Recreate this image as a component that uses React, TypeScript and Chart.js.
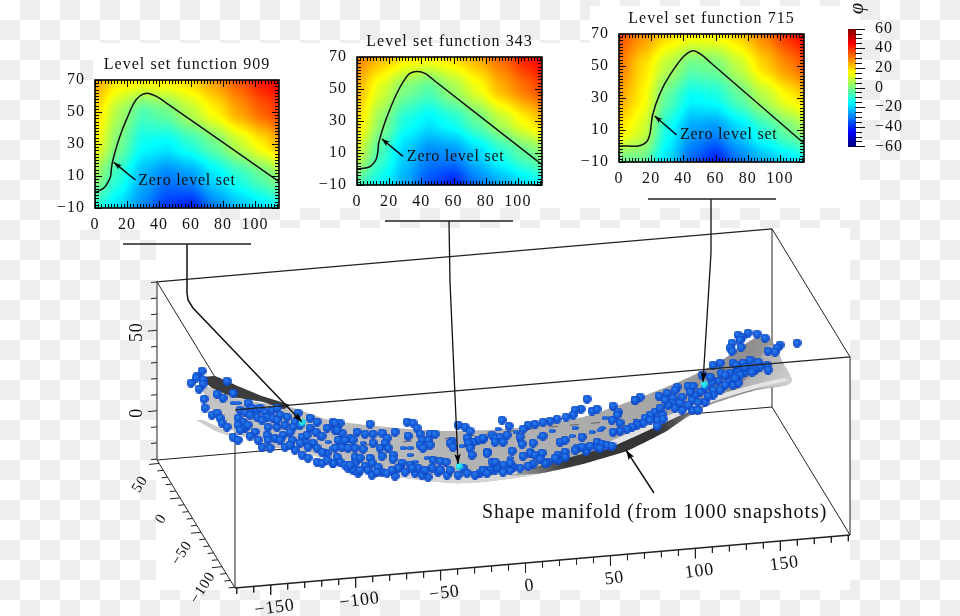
import React, { useEffect, useRef } from "react";
import { Chart, registerables } from "chart.js";

Chart.register(...registerables);

const SERIF = '"Liberation Serif", "DejaVu Serif", serif';
type P = [number, number];

// ---- level set insets ----
const fieldX = [0, 15, 30, 45, 60, 75, 90, 105, 115];
const fieldY = [70, 50, 30, 10, -10];
const phi909 = [
  [25, 18, 16, 17, 20, 27, 35, 43, 46],
  [20, 5, -6, -2, 7, 16, 26, 34, 38],
  [15, -1, -14, -16, -10, -2, 8, 17, 24],
  [3, -10, -24, -30, -27, -18, -10, -3, 2],
  [-10, -19, -29, -39, -42, -30, -23, -18, -13],
];
const phi343 = [
  [30, 23, 18, 16, 19, 25, 33, 42, 46],
  [24, 11, 0, -5, 4, 13, 24, 32, 37],
  [19, 2, -12, -17, -12, -3, 7, 16, 22],
  [10, -7, -21, -29, -28, -20, -11, -3, 1],
  [-6, -15, -25, -36, -42, -31, -25, -19, -14],
];
const phi715 = [
  [36, 28, 20, 16, 16, 21, 30, 40, 46],
  [31, 19, 7, -3, -1, 8, 20, 29, 34],
  [26, 16, -4, -15, -13, -4, 6, 15, 20],
  [18, 10, -13, -26, -28, -20, -10, -2, 3],
  [-3, -3, -19, -33, -42, -31, -24, -19, -15],
];
const curve909: P[] = [[0, -0.4], [3, 1], [6, 3], [8, 6], [9.7, 9.6], [10.3, 15], [11.2, 20], [14, 30], [17, 38.7], [20, 46], [24.2, 55.4], [28, 60], [32.5, 61.7], [38.7, 59.6], [44, 56], [115, 6.5]];
const curve343: P[] = [[0, 0.2], [4, 0.4], [8.3, 1.7], [11.8, 5.8], [13, 11], [13.5, 16.3], [17.6, 29.8], [24.9, 47.5], [32, 59], [37.3, 61], [42.5, 59.6], [48, 55.3], [115, 2.7]];
const curve715: P[] = [[0, 0], [6, 0], [12, 0], [17.2, 2.7], [19.3, 7.9], [20.9, 19.4], [25.5, 32.9], [31.7, 44.4], [40, 55.8], [46.2, 59.6], [51.4, 56.9], [57, 52], [114.6, 2]];
const arrow909: P[] = [[25.3, 7.5], [11.8, 18.5]];
const arrow343: P[] = [[28.6, 7.9], [15.5, 18.8]];
const arrow715: P[] = [[35.8, 6.9], [22.2, 18.8]];
const zeroLabel = "Zero level set";
const zeroAt909: P = [27, 6.9];
const zeroAt343: P = [31, 7.5];
const zeroAt715: P = [37.9, 6.9];

// ---- colour bar ----
const barTicksMajorStep = 20;
const barRange: P = [-60, 60];

// ---- 3D box, axis values ----
const xExtent: P = [-171, 191];
const yExtent: P = [-131, 55];
const zExtent: P = [-30.6, 80];
const xTickLabels = [-150, -100, -50, 0, 50, 100, 150];
const yTickLabels = [50, 0, -50, -100];
const zTickLabels = [50, 0];

// ---- manifold in the view plane ----
const manifoldBody: P[] = [[203, 385], [233, 397], [263, 403], [287, 406], [330, 420], [397, 428], [450, 431], [517, 428], [583, 417], [633, 400], [683, 380], [717, 363], [737, 350], [757, 337], [770, 338], [783, 363], [792, 380], [787, 385], [757, 390], [733, 397], [703, 408], [667, 430], [627, 450], [583, 463], [533, 475], [483, 482], [450, 483], [397, 477], [347, 467], [297, 450], [270, 447], [237, 433], [215, 415], [205, 400], [203, 385]];
const manifoldTipLight: P[] = [[733, 394], [752, 372], [770, 345], [783, 363], [792, 380], [787, 385], [757, 389], [733, 394]];
const manifoldRim: P[] = [[300, 450], [347, 461], [397, 470], [450, 476], [483, 476], [533, 469], [583, 458], [583, 463], [533, 475], [483, 482], [450, 483], [397, 477], [347, 467], [300, 450]];
const foldTop: P[] = [[203, 377], [215, 376], [240, 387], [262, 396], [290, 405], [284, 409], [263, 402], [233, 397], [212, 388], [205, 382], [203, 377]];
const foldUnder: P[] = [[510, 476], [545, 464], [590, 452], [627, 440], [667, 422], [695, 408], [695, 410], [667, 431], [627, 451], [583, 464], [543, 473], [510, 476]];
const highlight: P[] = [[600, 446], [667, 416], [710, 397], [757, 384], [785, 378], [787, 381], [757, 388], [712, 402], [670, 420], [605, 450], [600, 446]];
const streak: P[] = [[196, 420], [203, 420], [225, 430], [240, 440], [235, 438], [215, 431], [196, 420]];
const surfaceDash: P[] = [[340, 447], [450, 438], [540, 428], [637, 419]];

const snapshotsLeft: P[] = [[202, 371], [197, 376], [196, 378], [203, 380], [191, 383], [203, 384], [199, 389], [227, 381], [233, 393], [204, 399], [205, 408], [217, 394], [223, 398], [212, 415], [217, 413], [220, 418], [222, 423], [227, 427], [240, 410], [248, 403], [252, 408], [257, 410], [260, 408], [265, 412], [272, 410], [277, 408], [280, 415], [287, 417], [295, 422], [310, 418], [317, 422], [238, 418], [243, 422], [238, 425], [245, 428], [255, 432], [248, 425], [257, 417], [267, 417], [273, 418], [268, 427], [277, 427], [283, 435], [292, 440], [302, 437], [305, 442], [307, 435], [313, 443], [317, 448], [267, 435], [268, 440], [275, 438], [233, 437], [238, 440], [262, 447], [270, 448], [285, 447], [295, 450], [302, 455], [308, 458], [317, 462], [322, 463], [327, 453], [333, 463], [327, 428], [335, 423], [337, 430], [327, 460], [300, 443], [293, 427], [298, 413], [245, 412], [250, 415], [262, 420], [277, 420], [285, 425], [290, 432], [300, 425], [310, 428], [316, 432], [322, 436], [240, 430], [250, 436], [258, 440], [280, 440], [290, 445], [308, 447], [322, 452]];
const snapshotsMiddle: P[] = [[333, 422], [340, 423], [370, 424], [407, 422], [413, 423], [417, 428], [458, 425], [465, 427], [470, 431], [335, 430], [342, 433], [357, 432], [365, 434], [373, 434], [382, 433], [395, 432], [420, 434], [430, 434], [435, 434], [350, 438], [353, 440], [387, 438], [408, 436], [467, 438], [452, 441], [450, 443], [422, 440], [428, 440], [420, 445], [430, 445], [423, 448], [373, 443], [385, 443], [388, 448], [380, 448], [478, 440], [483, 438], [473, 442], [468, 443], [470, 448], [453, 447], [335, 448], [342, 447], [348, 448], [355, 448], [363, 449], [382, 456], [472, 455], [393, 455], [393, 459], [433, 460], [440, 461], [446, 462], [337, 457], [333, 463], [340, 462], [345, 465], [348, 468], [355, 457], [355, 463], [353, 470], [358, 473], [365, 466], [370, 458], [372, 463], [378, 467], [382, 472], [387, 473], [395, 476], [402, 463], [400, 467], [410, 465], [398, 468], [405, 472], [415, 473], [418, 468], [423, 472], [428, 477], [422, 475], [438, 472], [447, 475], [450, 470], [458, 475], [463, 468], [467, 473], [475, 475], [483, 470], [487, 473], [487, 453], [338, 440], [345, 440], [360, 458], [368, 470], [372, 475], [440, 470], [432, 468], [425, 470], [412, 468], [392, 470], [377, 472], [360, 470], [350, 465]];
const snapshotsCentre: P[] = [[587, 399], [502, 420], [509, 426], [613, 406], [581, 409], [575, 410], [573, 415], [566, 417], [592, 411], [597, 409], [618, 412], [617, 415], [557, 419], [550, 421], [543, 422], [535, 424], [528, 425], [523, 429], [612, 420], [620, 423], [635, 400], [637, 425], [632, 427], [627, 429], [620, 431], [613, 432], [492, 435], [495, 438], [500, 437], [507, 435], [483, 439], [495, 442], [503, 442], [520, 437], [522, 444], [533, 443], [543, 436], [560, 442], [565, 440], [582, 437], [597, 442], [602, 444], [607, 445], [612, 446], [597, 447], [586, 448], [586, 451], [487, 452], [512, 451], [530, 453], [535, 455], [542, 453], [523, 456], [565, 452], [558, 455], [565, 457], [558, 460], [548, 462], [545, 463], [533, 464], [528, 466], [520, 468], [513, 467], [510, 470], [503, 465], [503, 472], [495, 470], [490, 470], [492, 462], [483, 470], [480, 473], [577, 448], [582, 447], [497, 467], [510, 463], [540, 459], [555, 458], [495, 462], [575, 450], [600, 448], [590, 446]];
const snapshotsRight: P[] = [[748, 333], [738, 335], [742, 337], [740, 340], [757, 334], [765, 338], [732, 343], [730, 348], [732, 351], [741, 347], [780, 345], [777, 348], [797, 343], [768, 351], [775, 352], [720, 363], [713, 365], [733, 363], [743, 363], [750, 360], [758, 362], [767, 365], [768, 370], [760, 367], [750, 367], [745, 372], [755, 370], [737, 370], [730, 373], [740, 375], [728, 382], [733, 385], [738, 383], [725, 385], [718, 381], [712, 382], [702, 375], [721, 373], [710, 377], [688, 386], [693, 386], [677, 387], [675, 390], [667, 393], [659, 396], [640, 397], [635, 400], [713, 390], [713, 395], [705, 388], [700, 392], [695, 395], [692, 400], [705, 402], [682, 397], [673, 398], [672, 403], [675, 408], [682, 410], [692, 410], [698, 410], [655, 412], [650, 415], [662, 414], [645, 418], [657, 420], [663, 419], [637, 423], [643, 423], [657, 426], [725, 375], [735, 378], [720, 390], [708, 396], [698, 402], [688, 405], [680, 403], [668, 405], [660, 408], [650, 420], [665, 400], [745, 367], [752, 372], [736, 365], [690, 392]];
const snapshotsClipped: P[] = [[233, 403], [238, 403], [222, 397], [310, 430], [320, 438], [328, 442], [332, 448], [363, 443], [403, 448], [410, 448], [410, 455], [427, 458], [415, 462], [575, 428], [602, 428], [605, 418], [552, 431], [540, 437], [520, 441], [530, 450], [592, 432], [600, 430], [440, 468], [462, 446], [498, 429], [516, 432], [572, 436], [510, 458]];
const highlighted: P[] = [[302, 422], [459, 466], [704, 384]];

const bracket909: P[] = [[123, 244], [251, 244]];
const bracket343: P[] = [[385, 221], [513, 221]];
const bracket715: P[] = [[648, 199], [776, 199]];
const leader909: P[] = [[187, 244], [187, 293], [188, 300], [193, 308], [302, 422]];
const leader343: P[] = [[449, 221], [450, 282], [458, 464]];
const leader715: P[] = [[711, 199], [711, 253], [703, 382]];
const leaderManifold: P[] = [[654, 493], [626, 450]];
const manifoldLabel = "Shape manifold (from 1000 snapshots)";
const manifoldLabelAt: P = [482, 513];

function project(X: number, Y: number, Z: number): P {
  const sx = 235 + (X - xExtent[0]) * 1.699 - (Y - yExtent[0]) * 0.4194;
  const sy = 588 - (X - xExtent[0]) * 0.1464 - (Y - yExtent[0]) * 0.6882 - (Z - zExtent[0]) * 1.61;
  return [sx, sy];
}

function jet(v: number): [number, number, number] {
  const t = Math.max(0, Math.min(1, (v + 60) / 120));
  const ch = (c: number) => Math.round(255 * Math.max(0, Math.min(1, 1.5 - Math.abs(4 * t - c))));
  return [ch(3), ch(2), ch(1)];
}

function sampleField(grid: number[][], x: number, y: number) {
  let i = 0;
  while (i < fieldX.length - 2 && x > fieldX[i + 1]) i++;
  let j = 0;
  while (j < fieldY.length - 2 && y < fieldY[j + 1]) j++;
  const a = Math.max(0, Math.min(1, (x - fieldX[i]) / (fieldX[i + 1] - fieldX[i])));
  const b = Math.max(0, Math.min(1, (y - fieldY[j]) / (fieldY[j + 1] - fieldY[j])));
  const s = (q: number) => q * q * (3 - 2 * q);
  const aa = a * 0.5 + s(a) * 0.5;
  const bb = b * 0.5 + s(b) * 0.5;
  return (grid[j][i] * (1 - aa) + grid[j][i + 1] * aa) * (1 - bb) + (grid[j + 1][i] * (1 - aa) + grid[j + 1][i + 1] * aa) * bb;
}

function arrowHead(ctx: CanvasRenderingContext2D, fx: number, fy: number, tx: number, ty: number, len = 9, half = 3) {
  const a = Math.atan2(ty - fy, tx - fx);
  ctx.save();
  ctx.translate(tx, ty);
  ctx.rotate(a);
  ctx.fillStyle = "#000";
  ctx.beginPath();
  ctx.moveTo(0, 0);
  ctx.lineTo(-len, -half);
  ctx.lineTo(-len + 2, 0);
  ctx.lineTo(-len, half);
  ctx.closePath();
  ctx.fill();
  ctx.restore();
}

const lineSet = (data: P[], color: string, width: number, order: number, extra: any = {}) => ({
  type: "line",
  data: data.map(([x, y]) => ({ x, y })),
  borderColor: color,
  borderWidth: width,
  pointRadius: 0,
  tension: 0,
  fill: false,
  order,
  ...extra,
});

function ball(color1: string, color2: string, w: number, h: number) {
  const c = document.createElement("canvas");
  c.width = w;
  c.height = h;
  const g = c.getContext("2d")!;
  const grad = g.createRadialGradient(w * 0.42, h * 0.38, 0.3, w / 2, h / 2, Math.max(w, h) / 2);
  grad.addColorStop(0, color1);
  grad.addColorStop(1, color2);
  g.fillStyle = grad;
  g.beginPath();
  g.ellipse(w / 2, h / 2, w / 2, h / 2, 0, 0, Math.PI * 2);
  g.fill();
  return c;
}

function makeInset(canvas: HTMLCanvasElement, title: string, grid: number[][], curve: P[], arrow: P[], labelAt: P) {
  const ctxPlugin = {
    id: "inset",
    beforeDraw(chart: any) {
      chart.ctx.letterSpacing = "1.05px";
    },
    beforeDatasetsDraw(chart: any) {
      const { ctx, chartArea: a, scales } = chart;
      const L = Math.round(a.left), T = Math.round(a.top);
      const w = Math.round(a.right) - L, h = Math.round(a.bottom) - T;
      const img = ctx.createImageData(w, h);
      for (let py = 0; py < h; py++) {
        const vy = scales.y.getValueForPixel(T + py + 0.5);
        for (let px = 0; px < w; px++) {
          const vx = scales.x.getValueForPixel(L + px + 0.5);
          const [r, g, b] = jet(sampleField(grid, vx, vy));
          const k = (py * w + px) * 4;
          img.data[k] = r; img.data[k + 1] = g; img.data[k + 2] = b; img.data[k + 3] = 255;
        }
      }
      ctx.putImageData(img, L, T);
    },
    afterDatasetsDraw(chart: any) {
      const { ctx, chartArea: a, scales } = chart;
      const sx = scales.x, sy = scales.y;
      ctx.save();
      ctx.strokeStyle = "#000";
      ctx.lineWidth = 1;
      ctx.beginPath();
      for (let v = 0; v <= 115; v += 2) {
        const p = Math.round(sx.getPixelForValue(v)) + 0.5;
        const l = v % 20 === 0 ? 7 : 4;
        ctx.moveTo(p, a.bottom); ctx.lineTo(p, a.bottom - l);
        ctx.moveTo(p, a.top); ctx.lineTo(p, a.top + l);
      }
      for (let v = -10; v <= 70; v += 2) {
        const p = Math.round(sy.getPixelForValue(v)) + 0.5;
        const l = (v + 10) % 20 === 0 ? 7 : 4;
        ctx.moveTo(a.left, p); ctx.lineTo(a.left + l, p);
        ctx.moveTo(a.right, p); ctx.lineTo(a.right - l, p);
      }
      ctx.stroke();
      ctx.strokeStyle = "#000";
      ctx.lineWidth = 1.6;
      ctx.strokeRect(a.left, a.top, a.right - a.left, a.bottom - a.top);
      const fx = sx.getPixelForValue(arrow[0][0]), fy = sy.getPixelForValue(arrow[0][1]);
      const tx = sx.getPixelForValue(arrow[1][0]), ty = sy.getPixelForValue(arrow[1][1]);
      arrowHead(ctx, fx, fy, tx, ty, 8, 2.8);
      ctx.fillStyle = "#111";
      ctx.font = `16px ${SERIF}`;
      ctx.letterSpacing = "0.75px";
      ctx.textAlign = "left";
      ctx.textBaseline = "middle";
      ctx.fillText(zeroLabel, sx.getPixelForValue(labelAt[0]), sy.getPixelForValue(labelAt[1]));
      ctx.restore();
    },
  };
  return new Chart(canvas, {
    type: "line",
    data: {
      datasets: [
        lineSet(curve, "#111", 1.5, 2, { tension: 0.3 }),
        lineSet(arrow, "#000", 1.4, 1),
      ] as any,
    },
    options: {
      animation: false,
      responsive: false,
      layout: { autoPadding: false, padding: { right: 10 } },
      plugins: {
        legend: { display: false },
        tooltip: { enabled: false },
        title: {
          display: true,
          fullSize: false,
          text: title,
          color: "#111",
          font: { family: SERIF, size: 16, weight: "normal", lineHeight: 1.25 },
          padding: { top: 5, bottom: 5 },
        },
      },
      scales: {
        x: {
          type: "linear",
          min: 0,
          max: 115,
          grid: { display: false, drawTicks: false },
          border: { display: false },
          afterFit: (s: any) => { s.height = 35; },
          ticks: { stepSize: 20, includeBounds: false, maxRotation: 0, autoSkip: false, padding: 7, color: "#111", font: { family: SERIF, size: 16 } },
        },
        y: {
          type: "linear",
          min: -10,
          max: 70,
          grid: { display: false, drawTicks: false },
          border: { display: false },
          afterFit: (s: any) => { s.width = 50; },
          ticks: {
            stepSize: 20, autoSkip: false, padding: 10, color: "#111", font: { family: SERIF, size: 16 },
            callback: (v: any) => (v < 0 ? "\u2212" + Math.abs(v) : String(v)),
          },
        },
      },
    } as any,
    plugins: [ctxPlugin as any],
  });
}

function makeBar(canvas: HTMLCanvasElement) {
  const plugin = {
    id: "bar",
    beforeDraw(chart: any) { chart.ctx.letterSpacing = "1.05px"; },
    afterDatasetsDraw(chart: any) {
      const { ctx, chartArea: a, scales } = chart;
      const sy = scales.y;
      ctx.save();
      for (let p = Math.round(a.top); p < a.bottom; p++) {
        const [r, g, b] = jet(sy.getValueForPixel(p + 0.5));
        ctx.fillStyle = `rgb(${r},${g},${b})`;
        ctx.fillRect(a.left, p, a.right - a.left, 1);
      }
      ctx.strokeStyle = "#111";
      ctx.lineWidth = 1;
      ctx.beginPath();
      for (let v = barRange[0]; v <= barRange[1]; v += 5) {
        const p = Math.round(sy.getPixelForValue(v)) + 0.5;
        ctx.moveTo(a.right - 1, p);
        ctx.lineTo(a.right + (v % barTicksMajorStep === 0 ? 9 : 6), p);
      }
      ctx.stroke();
      ctx.translate(a.left + 10, 8);
      ctx.rotate(-Math.PI / 2);
      ctx.fillStyle = "#111";
      ctx.font = `italic 20px ${SERIF}`;
      ctx.textAlign = "center";
      ctx.textBaseline = "middle";
      ctx.fillText("\u03c6", 0, 0);
      ctx.restore();
    },
  };
  return new Chart(canvas, {
    type: "line",
    data: { datasets: [] },
    options: {
      animation: false,
      responsive: false,
      layout: { autoPadding: false, padding: { left: 8, top: 27, bottom: 20 } },
      plugins: { legend: { display: false }, tooltip: { enabled: false } },
      scales: {
        x: { type: "linear", min: 0, max: 1, display: false },
        y: {
          type: "linear",
          position: "right",
          min: barRange[0],
          max: barRange[1],
          grid: { display: false, drawTicks: false },
          border: { display: false },
          afterFit: (s: any) => { s.width = 59; },
          ticks: {
            stepSize: barTicksMajorStep, autoSkip: false, padding: 19, color: "#111", font: { family: SERIF, size: 16 },
            callback: (v: any) => (v < 0 ? "\u2212" + Math.abs(v) : String(v)),
          },
        },
      },
    } as any,
    plugins: [plugin as any],
  });
}

function boxEdge(a: [number, number, number], b: [number, number, number]): P[] {
  return [project(...a), project(...b)];
}

function makeMain(canvas: HTMLCanvasElement) {
  const [x0, x1] = xExtent, [y0, y1] = yExtent, [z0, z1] = zExtent;
  const ctx = canvas.getContext("2d")!;

  const bodyFill = ctx.createLinearGradient(200, 0, 790, 0);
  bodyFill.addColorStop(0, "#c4c4c4");
  bodyFill.addColorStop(0.4, "#b6b6b6");
  bodyFill.addColorStop(0.75, "#a8a8a8");
  bodyFill.addColorStop(0.93, "#8e8e8e");
  bodyFill.addColorStop(1, "#a0a0a0");
  const underFill = ctx.createLinearGradient(510, 0, 695, 0);
  underFill.addColorStop(0, "rgba(70,70,70,0.3)");
  underFill.addColorStop(0.3, "#3a3a3a");
  underFill.addColorStop(0.8, "#333");
  underFill.addColorStop(1, "#777");
  const tipFill = ctx.createLinearGradient(740, 345, 792, 385);
  tipFill.addColorStop(0, "#999");
  tipFill.addColorStop(1, "#d4d4d4");

  const tickSegs = (from: number, to: number, step: number, pos: (v: number) => P, dir: P, majorLen: number, minorLen: number, major: number) => {
    const out: any[] = [];
    const first = Math.ceil(from / step) * step;
    for (let v = first; v <= to; v += step) {
      const [px, py] = pos(v);
      const l = v % major === 0 ? majorLen : minorLen;
      out.push({ x: px, y: py }, { x: px + dir[0] * l, y: py + dir[1] * l }, { x: px, y: null });
    }
    return out;
  };

  const ticksDs = (data: any[]) => ({ type: "line", data, borderColor: "#222", borderWidth: 1, pointRadius: 0, spanGaps: false, fill: false, order: 11 });

  const shape = (data: P[], color: any, order: number, tension = 0.25) =>
    lineSet(data, "rgba(0,0,0,0)", 0, order, { fill: "shape", backgroundColor: color, tension });

  const balls = (data: P[], style: any, order: number) => ({
    type: "line",
    data: data.map(([x, y]) => ({ x, y })),
    showLine: false,
    pointStyle: style,
    pointRadius: 4,
    order,
  });

  const sphere = ball("#2a80f2", "#0a44c4", 9, 9);
  const flat = ball("#2a78e8", "#0d48c0", 7, 4);
  const cyan = ball("#40ffff", "#10c8e0", 7, 7);

  const edge = "#222";
  const datasets: any[] = [
    // back of box
    lineSet(boxEdge([x0, y1, z1], [x1, y1, z1]), edge, 1.3, 12),
    lineSet(boxEdge([x0, y1, z0], [x1, y1, z0]), edge, 1.2, 12),
    lineSet(boxEdge([x0, y1, z0], [x0, y1, z1]), edge, 1, 12),
    lineSet(boxEdge([x1, y1, z0], [x1, y1, z1]), edge, 1, 12),
    lineSet(boxEdge([x0, y1, z1], [x0, y0, z1]), edge, 1, 12),
    lineSet(boxEdge([x1, y1, z1], [x1, y0, z1]), edge, 1, 12),
    lineSet(boxEdge([x0, y1, z0], [x0, y0, z0]), edge, 1, 12),
    lineSet(boxEdge([x1, y1, z0], [x1, y0, z0]), edge, 1, 12),
    lineSet(boxEdge([x0, y0, z0], [x1, y0, z0]), edge, 1.3, 12),
    lineSet(boxEdge([x0, y0, z0], [x0, y0, z1]), edge, 1, 12),
    lineSet(boxEdge([x1, y0, z0], [x1, y0, z1]), edge, 1, 12),
    ticksDs(tickSegs(x0, x1, 10, (v) => project(v, y0, z0), [0, 1], 10, 6, 50)),
    ticksDs(tickSegs(y0, y1, 10, (v) => project(x0, v, z0), [-1, 0.1], 10, 6, 50)),
    ticksDs(tickSegs(z0, z1, 10, (v) => project(x0, y1, v), [-1, 0.1], 9, 6, 50)),
    // manifold
    shape(streak, "#cfcfcf", 10, 0),
    shape(manifoldBody, bodyFill, 9),
    shape(manifoldTipLight, tipFill, 8),
    shape(manifoldRim, "#d6d6d6", 8),
    shape(foldTop, "#3c3c3c", 8, 0.1),
    shape(highlight, "#e4e4e4", 7, 0.1),
    shape(foldUnder, underFill, 7, 0.1),
    lineSet(surfaceDash, "rgba(50,50,50,0.6)", 1, 6, { borderDash: [9, 12] }),
    // snapshots
    balls(snapshotsClipped, flat, 5),
    balls(snapshotsLeft, sphere, 4),
    balls(snapshotsMiddle, sphere, 4),
    balls(snapshotsCentre, sphere, 4),
    balls(snapshotsRight, sphere, 4),
    balls(highlighted, cyan, 3),
    // front lines of box
    lineSet(boxEdge([x0, y0, z1], [x1, y0, z1]), edge, 1.3, 2),
    // leaders
    lineSet(bracket909, "#222", 1.3, 1),
    lineSet(bracket343, "#222", 1.3, 1),
    lineSet(bracket715, "#222", 1.3, 1),
    lineSet(leader909, "#111", 1.5, 1),
    lineSet(leader343, "#111", 1.3, 1),
    lineSet(leader715, "#111", 1.3, 1),
    lineSet(leaderManifold, "#111", 1.4, 1),
  ];

  const plugin = {
    id: "box",
    afterDatasetsDraw(chart: any) {
      const c = chart.ctx as CanvasRenderingContext2D;
      const sx = chart.scales.x, sy = chart.scales.y;
      const px = (p: P): P => [sx.getPixelForValue(p[0]), sy.getPixelForValue(p[1])];
      [leader909, leader343, leader715, leaderManifold].forEach((l) => {
        const a = px(l[l.length - 2]), b = px(l[l.length - 1]);
        arrowHead(c, a[0], a[1], b[0], b[1], 10, 3.2);
      });
      const put = (s: string, p: P, rot: number, font: string, align: CanvasTextAlign = "center") => {
        c.save();
        c.translate(sx.getPixelForValue(p[0]), sy.getPixelForValue(p[1]));
        c.rotate(rot);
        c.font = font;
        c.fillStyle = "#111";
        c.textAlign = align;
        c.textBaseline = "middle";
        c.fillText(s, 0, 0);
        c.restore();
      };
      (c as any).letterSpacing = "0.8px";
      const fmt = (v: number) => (v < 0 ? "\u2212" + Math.abs(v) : String(v));
      xTickLabels.forEach((v) => {
        const [a, b] = project(v, y0, z0);
        put(fmt(v), [a + 4, b + 23], -0.13, `18px ${SERIF}`);
      });
      yTickLabels.forEach((v) => {
        const [a, b] = project(x0, v, z0);
        put(fmt(v), [a - 19, b + 21], -1.0, `15px ${SERIF}`);
      });
      zTickLabels.forEach((v) => {
        const [a, b] = project(x0, y1, v);
        put(fmt(v), [a - 20, b + 2], -Math.PI / 2, `18px ${SERIF}`);
      });
      (c as any).letterSpacing = "0.95px";
      put(manifoldLabel, manifoldLabelAt, 0, `20px ${SERIF}`, "left");
    },
  };

  return new Chart(canvas, {
    type: "line",
    data: { datasets },
    options: {
      animation: false,
      responsive: false,
      layout: { autoPadding: false, padding: 0 },
      plugins: { legend: { display: false }, tooltip: { enabled: false } },
      scales: {
        x: { type: "linear", min: 0, max: 960, display: false },
        y: { type: "linear", min: 0, max: 616, reverse: true, display: false },
      },
    } as any,
    plugins: [plugin as any],
  });
}

const whiteBacks = [
  { left: 156, top: 228, width: 694, height: 362 },
  { left: 93, top: 43, width: 757, height: 165 },
  { left: 590, top: 6, width: 270, height: 202 },
  { left: 60, top: 80, width: 40, height: 150 },
  { left: 60, top: 208, width: 160, height: 22 },
];

export default function App() {
  const main = useRef<HTMLCanvasElement>(null);
  const a = useRef<HTMLCanvasElement>(null);
  const b = useRef<HTMLCanvasElement>(null);
  const c = useRef<HTMLCanvasElement>(null);
  const bar = useRef<HTMLCanvasElement>(null);

  useEffect(() => {
    const charts = [
      makeMain(main.current!),
      makeInset(a.current!, "Level set function 909", phi909, curve909, arrow909, zeroAt909),
      makeInset(b.current!, "Level set function 343", phi343, curve343, arrow343, zeroAt343),
      makeInset(c.current!, "Level set function 715", phi715, curve715, arrow715, zeroAt715),
      makeBar(bar.current!),
    ];
    return () => charts.forEach((ch) => ch.destroy());
  }, []);

  const abs = (left: number, top: number): React.CSSProperties => ({ position: "absolute", left, top });
  return (
    <div
      style={{
        position: "fixed",
        left: 0,
        top: 0,
        width: 960,
        height: 616,
        overflow: "hidden",
        background: "repeating-conic-gradient(#eeeeee 0 25%, #ffffff 0 50%) 0 0 / 40px 40px",
      }}
    >
      {whiteBacks.map((r, i) => (
        <div key={i} style={{ position: "absolute", background: "#fff", ...r }} />
      ))}
      <canvas ref={main} width={960} height={616} style={abs(0, 0)} />
      <canvas ref={a} width={244} height={193} style={abs(45, 50)} />
      <canvas ref={b} width={245} height={193} style={abs(307, 27)} />
      <canvas ref={c} width={245} height={193} style={abs(569, 4)} />
      <canvas ref={bar} width={75} height={175} style={abs(840, 0)} />
    </div>
  );
}
